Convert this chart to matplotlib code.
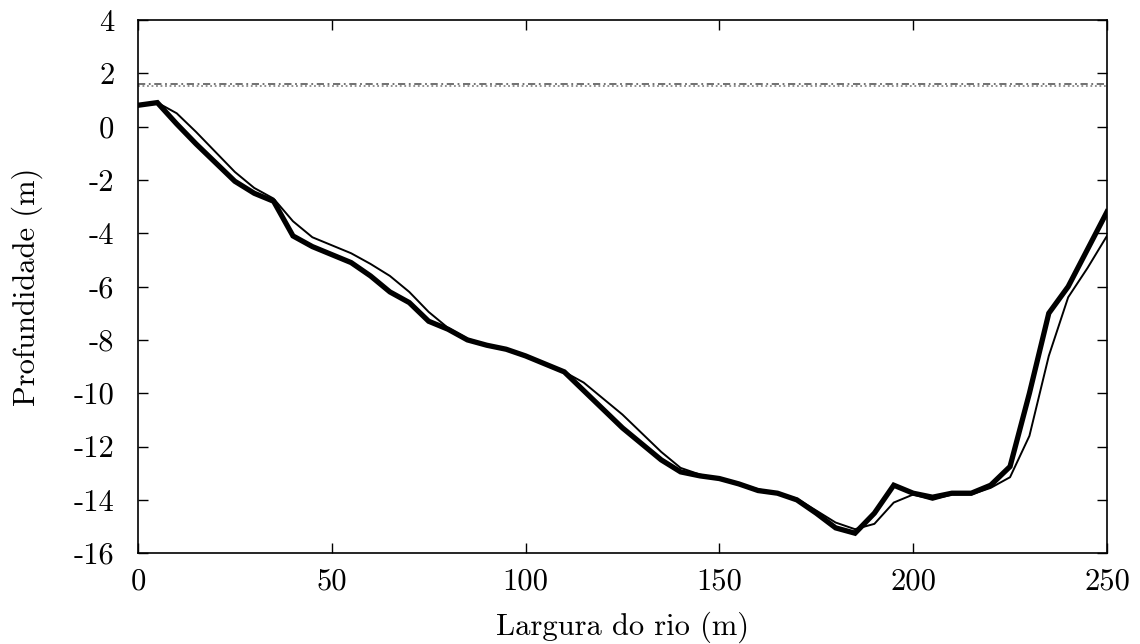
import matplotlib
matplotlib.use("Agg")
import matplotlib.pyplot as plt

plt.rcParams["font.family"] = ["cmr10", "DejaVu Serif"]
plt.rcParams["axes.unicode_minus"] = False
plt.rcParams["mathtext.fontset"] = "cm"

# cross-section positions across the river (m)
largura = list(range(0, 255, 5))

# measured bed profile (thick line)
prof_medido = [
    0.8, 0.9, 0.1, -0.65, -1.35, -2.05, -2.5, -2.8, -4.1, -4.5,
    -4.8, -5.1, -5.6, -6.2, -6.6, -7.3, -7.6, -8.0, -8.2, -8.35,
    -8.6, -8.9, -9.2, -9.9, -10.6, -11.3, -11.9, -12.5, -12.95, -13.1,
    -13.2, -13.4, -13.65, -13.75, -14.0, -14.5, -15.05, -15.25, -14.5, -13.45,
    -13.75, -13.9, -13.75, -13.75, -13.45, -12.75, -10.0, -7.0, -6.0, -4.6,
    -3.2,
]

# computed bed profile (thin line)
prof_calculado = [
    0.8, 0.9, 0.5, -0.2, -0.95, -1.7, -2.3, -2.7, -3.55, -4.15,
    -4.45, -4.75, -5.15, -5.6, -6.2, -6.95, -7.55, -7.95, -8.2, -8.35,
    -8.6, -8.9, -9.2, -9.6, -10.2, -10.8, -11.5, -12.2, -12.8, -13.05,
    -13.2, -13.4, -13.6, -13.75, -13.95, -14.4, -14.85, -15.1, -14.9, -14.1,
    -13.8, -14.0, -13.8, -13.8, -13.55, -13.15, -11.6, -8.6, -6.4, -5.3,
    -4.1,
]

# water surface level (m)
nivel_agua = 1.55

fig = plt.figure(figsize=(11.4, 6.44), dpi=100)
ax = fig.add_axes([0.121, 0.141, 0.850, 0.828])

ax.axhline(nivel_agua + 0.04, color="#666666", lw=1.3, ls=(0, (4, 2, 1, 2)))
ax.axhline(nivel_agua - 0.04, color="#888888", lw=1.3, ls=(0, (1, 1.5)))
ax.plot(largura, prof_calculado, color="black", lw=1.4)
ax.plot(largura, prof_medido, color="black", lw=3.8, solid_joinstyle="miter")

ax.set_xlim(0, 250)
ax.set_ylim(-16, 4)
ax.set_xticks(range(0, 251, 50))
ax.set_yticks(range(-16, 5, 2))
ax.tick_params(direction="in", top=True, right=True, length=7, width=1,
               labelsize=22)
ax.tick_params(axis="x", pad=11)
ax.tick_params(axis="y", pad=17)
for s in ax.spines.values():
    s.set_linewidth(1.2)

ax.set_xlabel("Largura do rio (m)", fontsize=22)
ax.set_ylabel("Profundidade (m)", fontsize=22)
ax.xaxis.set_label_coords(0.5, -0.11)
ax.yaxis.set_label_coords(-0.098, 0.5)

fig.savefig("out.png", dpi=100)
